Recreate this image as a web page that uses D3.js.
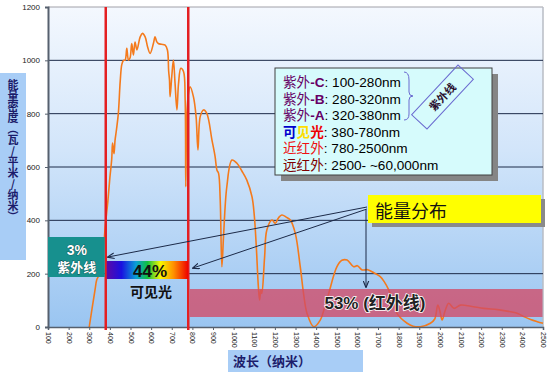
<!DOCTYPE html>
<html>
<head>
<meta charset="utf-8">
<script src="https://cdn.jsdelivr.net/npm/d3@7"></script>
<style>
  body { margin: 0; background: #fff; position: relative; }
  svg { display: block; font-family: "Liberation Sans", Arial, "Noto Sans CJK SC", sans-serif; }
  .ytitle {
    position: absolute; left: 7px; top: 79px;
    writing-mode: vertical-rl; text-orientation: upright;
    font: bold 11px "Noto Sans CJK SC", sans-serif;
    line-height: 12px; color: #1c1c6a; white-space: nowrap;
  }
</style>
</head>
<body>
<svg id="chart" width="550" height="372"></svg>
<script>
// solar spectrum
var wavelength = [300, 315, 328, 336, 344, 352, 365, 378, 390, 400, 409, 413, 420, 425, 432, 441, 450, 458, 466, 474,
  482, 490, 498, 506, 514, 522, 531, 547, 558, 571, 583, 595, 611, 619, 627, 635, 650, 668, 679, 685,
  689, 692, 700, 708, 716, 725, 733, 744, 757, 765, 768, 773, 781, 789, 805, 818, 827, 838, 854, 870,
  895, 910, 919, 927, 935, 943, 951, 967, 992, 1016, 1040, 1064, 1089, 1100, 1110, 1120, 1126, 1132, 1137, 1150,
  1161, 1186, 1202, 1218, 1234, 1255, 1275, 1299, 1323, 1340, 1356, 1388, 1420, 1440, 1461, 1501, 1525, 1550, 1582, 1600,
  1623, 1650, 1671, 1711, 1730, 1752, 1770, 1792, 1841, 1870, 1906, 1954, 1975, 1990, 2000, 2011, 2025, 2043, 2068, 2100,
  2150, 2213, 2280, 2343, 2380, 2407, 2440, 2472, 2500];
var energy = [0, 76, 139, 176, 189, 200, 260, 380, 470, 560, 630, 690, 650, 700, 740, 800, 920, 985, 1000, 1001,
  1045, 1001, 1010, 1063, 1020, 1069, 1039, 1088, 1101, 1088, 1050, 1026, 1063, 1088, 1070, 1063, 1060, 1057, 1039, 960,
  926, 864, 939, 1001, 914, 814, 914, 970, 958, 851, 526, 789, 876, 901, 864, 789, 664, 789, 814, 801,
  701, 640, 589, 576, 476, 226, 339, 526, 626, 614, 585, 551, 489, 420, 301, 150, 101, 140, 126, 260,
  364, 401, 389, 410, 420, 412, 401, 351, 226, 120, 51, 1, 26, 70, 126, 226, 250, 251, 226, 230,
  214, 215, 207, 189, 170, 139, 100, 51, 14, 3, 1, 14, 30, 82, 60, 26, 60, 89, 70, 82,
  78, 70, 65, 57, 50, 39, 28, 20, 14];

var xTicks = [100, 200, 300, 400, 500, 600, 700, 800, 900, 1000, 1100, 1200, 1300, 1400, 1500, 1600, 1700, 1800,
  1900, 2000, 2100, 2200, 2300, 2400, 2500];
var yTicks = [0, 200, 400, 600, 800, 1000, 1200];
var visibleRange = [380, 780];

var yTitle = "能量密度（瓦/平米/纳米）";
var xTitle = "波长（纳米）";
var uvShare = ["3%", "紫外线"];
var visShare = ["44%", "可见光"];
var irShare = "53% (红外线)";
var calloutText = "能量分布";
var braceText = "紫外线";

// legend rows: [text, colour, bold]
var legendRows = [
  [["紫外", "#660066"], ["-C", "#660066", true], [": 100-280nm", "#000"]],
  [["紫外", "#660066"], ["-B", "#660066", true], [": 280-320nm", "#000"]],
  [["紫外", "#660066"], ["-A", "#660066", true], [": 320-380nm", "#000"]],
  [["可", "#0000cc", true], ["见", "#ffdd00", true], ["光", "#ee0000", true], [": 380-780nm", "#000"]],
  [["近红外", "#ee1111"], [": 780-2500nm", "#000"]],
  [["远红外", "#800000"], [": 2500- ~60,000nm", "#000"]]
];

var svg = d3.select("#chart");
var margin = { top: 7, right: 7, bottom: 45, left: 48 };
var width = 550, height = 372;
var plotW = width - margin.left - margin.right;
var plotH = height - margin.top - margin.bottom;

var x = d3.scaleLinear().domain([100, 2500]).range([margin.left, margin.left + plotW]);
var y = d3.scaleLinear().domain([0, 1200]).range([margin.top + plotH, margin.top]);

var defs = svg.append("defs");
var bg = defs.append("linearGradient").attr("id", "plotBg")
  .attr("x1", 0).attr("y1", 0).attr("x2", 0).attr("y2", 1);
bg.append("stop").attr("offset", "0%").attr("stop-color", "#f4f8fe");
bg.append("stop").attr("offset", "45%").attr("stop-color", "#d2e5fa");
bg.append("stop").attr("offset", "100%").attr("stop-color", "#9ac5f1");

var rainbow = defs.append("linearGradient").attr("id", "rainbow");
[["0%", "#5a0aa8"], ["18%", "#1a10e0"], ["36%", "#0aa0d8"], ["50%", "#10c040"], ["66%", "#f8f800"],
  ["82%", "#ff9000"], ["100%", "#ee0000"]].forEach(function(s) {
  rainbow.append("stop").attr("offset", s[0]).attr("stop-color", s[1]);
});

defs.append("marker").attr("id", "arrow")
  .attr("viewBox", "0 0 10 10").attr("refX", 9).attr("refY", 5)
  .attr("markerWidth", 7).attr("markerHeight", 7).attr("orient", "auto")
  .append("path").attr("d", "M0,1 L10,5 L0,9").attr("fill", "none")
  .attr("stroke", "#1c2a48").attr("stroke-width", 1.6);

// plot area
svg.append("rect")
  .attr("x", margin.left).attr("y", margin.top)
  .attr("width", plotW).attr("height", plotH)
  .attr("fill", "url(#plotBg)");

svg.append("line")
  .attr("x1", margin.left).attr("x2", margin.left + plotW)
  .attr("y1", y(1200)).attr("y2", y(1200))
  .attr("stroke", "#a0a0a8");
svg.append("line")
  .attr("x1", margin.left + plotW).attr("x2", margin.left + plotW)
  .attr("y1", y(1200)).attr("y2", y(0))
  .attr("stroke", "#b8bcc4").attr("stroke-width", 1.5);

svg.selectAll(".grid")
  .data(yTicks.filter(function(d) { return d > 0 && d < 1200; }))
  .enter().append("line")
  .attr("class", "grid")
  .attr("x1", margin.left).attr("x2", margin.left + plotW)
  .attr("y1", function(d) { return y(d); }).attr("y2", function(d) { return y(d); })
  .attr("stroke", "#1c2a48").attr("stroke-width", 1);

// curve
var line = d3.line()
  .x(function(d, i) { return x(wavelength[i]); })
  .y(function(d) { return y(d); })
  .curve(d3.curveCatmullRom.alpha(0.5));

svg.append("path")
  .datum(energy)
  .attr("d", line)
  .attr("fill", "none")
  .attr("stroke", "#f47a1c")
  .attr("stroke-width", 1.6);

// axes
var yAxis = d3.axisLeft(y).tickValues(yTicks).tickFormat(d3.format("d")).tickSize(3).tickPadding(5);
var gy = svg.append("g").attr("transform", "translate(" + margin.left + ",0)").call(yAxis);
gy.select(".domain").attr("stroke", "#56606e").attr("stroke-width", 2);
gy.selectAll(".tick line").attr("stroke", "#56606e");
gy.selectAll("text").attr("font-size", 8).attr("fill", "#222");

var xAxis = d3.axisBottom(x).tickValues(xTicks).tickFormat(d3.format("d")).tickSize(3).tickPadding(0);
var gx = svg.append("g").attr("transform", "translate(0," + y(0) + ")").call(xAxis);
gx.select(".domain").attr("stroke", "#56606e").attr("stroke-width", 1.5);
gx.selectAll(".tick line").attr("stroke", "#56606e");
gx.selectAll("text")
  .attr("font-size", 7).attr("fill", "#222")
  .attr("text-anchor", "start")
  .attr("transform", "translate(-2.5,5) rotate(90)")
  .attr("x", 0).attr("y", 0).attr("dy", 0);

// visible range borders
svg.selectAll(".vis")
  .data(visibleRange)
  .enter().append("line")
  .attr("class", "vis")
  .attr("x1", function(d) { return x(d); }).attr("x2", function(d) { return x(d); })
  .attr("y1", y(1200)).attr("y2", y(0) + 3)
  .attr("stroke", "#e41f22").attr("stroke-width", 2.5);

// share boxes
var uvBox = svg.append("g");
uvBox.append("rect")
  .attr("x", margin.left).attr("y", 237)
  .attr("width", x(visibleRange[0]) - margin.left - 1).attr("height", 40)
  .attr("fill", "#17908e");
uvShare.forEach(function(t, i) {
  uvBox.append("text")
    .attr("x", (margin.left + x(visibleRange[0])) / 2).attr("y", 255 + i * 17)
    .attr("text-anchor", "middle")
    .attr("font-size", i ? 13 : 14).attr("font-weight", "bold")
    .attr("fill", "#fff")
    .attr("stroke", "#0a3a3a").attr("stroke-width", 0.6).attr("paint-order", "stroke")
    .text(t);
});

svg.append("rect")
  .attr("x", x(visibleRange[0]) + 1).attr("y", 261)
  .attr("width", x(visibleRange[1]) - x(visibleRange[0]) - 1).attr("height", 18)
  .attr("fill", "url(#rainbow)");
svg.append("text")
  .attr("x", 150).attr("y", 277)
  .attr("text-anchor", "middle")
  .attr("font-size", 17).attr("font-weight", "bold").attr("fill", "#111")
  .text(visShare[0]);
svg.append("text")
  .attr("x", 151).attr("y", 297)
  .attr("text-anchor", "middle")
  .attr("font-size", 14).attr("font-weight", "bold").attr("fill", "#111")
  .text(visShare[1]);

svg.append("rect")
  .attr("x", x(visibleRange[1]) + 1.5).attr("y", 289)
  .attr("width", x(2500) - x(visibleRange[1]) - 2).attr("height", 28)
  .attr("fill", "#d24a66").attr("opacity", 0.78);
svg.append("text")
  .attr("x", 375).attr("y", 309)
  .attr("text-anchor", "middle")
  .attr("font-size", 17).attr("font-weight", "bold").attr("fill", "#222")
  .attr("stroke", "#fff").attr("stroke-width", 1.6).attr("paint-order", "stroke")
  .text(irShare);

// legend box
var lg = svg.append("g");
lg.append("rect").attr("x", 281).attr("y", 74).attr("width", 217).attr("height", 107).attr("fill", "#858585");
lg.append("rect").attr("x", 275).attr("y", 68).attr("width", 217).attr("height", 107)
  .attr("fill", "#d6fbfc").attr("stroke", "#404040").attr("stroke-width", 1);
legendRows.forEach(function(row, i) {
  var t = lg.append("text").attr("x", 283).attr("y", 87 + i * 16.6).attr("font-size", 13.6);
  row.forEach(function(seg) {
    t.append("tspan").attr("fill", seg[1]).attr("font-weight", seg[2] ? "bold" : "normal").text(seg[0]);
  });
});
lg.append("path")
  .attr("d", "M404,72 Q409,72 409,80 L409,92 Q409,96 413,96 Q409,96 409,100 L409,114 Q409,120 404,120")
  .attr("fill", "none").attr("stroke", "#6a6ad0").attr("stroke-width", 1);
var tag = lg.append("g").attr("transform", "translate(442.5,97) rotate(-47)");
tag.append("rect").attr("x", -34).attr("y", -10.5).attr("width", 68).attr("height", 21)
  .attr("fill", "none").attr("stroke", "#6a6ad0").attr("stroke-width", 1);
tag.append("text").attr("x", 0).attr("y", 4).attr("text-anchor", "middle")
  .attr("font-size", 11).attr("font-weight", "bold").attr("fill", "#2a1030")
  .text(braceText);

// callout
svg.append("rect").attr("x", 372).attr("y", 199).attr("width", 173).attr("height", 28).attr("fill", "#8a8a8a");
svg.append("rect").attr("x", 368).attr("y", 195).attr("width", 173).attr("height", 28).attr("fill", "#ffff00");
svg.append("text").attr("x", 375).attr("y", 218)
  .attr("font-size", 18).attr("fill", "#111")
  .text(calloutText);

var arrows = [[367, 207, 108, 257], [367, 209, 193, 268], [366, 210, 366, 287]];
svg.selectAll(".arrow")
  .data(arrows)
  .enter().append("line")
  .attr("class", "arrow")
  .attr("x1", function(d) { return d[0]; }).attr("y1", function(d) { return d[1]; })
  .attr("x2", function(d) { return d[2]; }).attr("y2", function(d) { return d[3]; })
  .attr("stroke", "#1c2a48").attr("stroke-width", 1)
  .attr("marker-end", "url(#arrow)");

// axis titles
svg.append("rect").attr("x", 0).attr("y", 73).attr("width", 26).attr("height", 187).attr("fill", "#a8cdf6");
// upright stacked title: an html block in vertical writing mode
d3.select("body").append("div").attr("class", "ytitle").text(yTitle);

svg.append("rect").attr("x", 228).attr("y", 350).attr("width", 135).attr("height", 22).attr("fill", "#a8cdf6");
svg.append("text")
  .attr("x", 233).attr("y", 366)
  .attr("font-size", 13).attr("font-weight", "bold").attr("fill", "#1c1c6a")
  .attr("font-family", "'Noto Sans CJK SC', sans-serif")
  .text(xTitle);
</script>
</body>
</html>
